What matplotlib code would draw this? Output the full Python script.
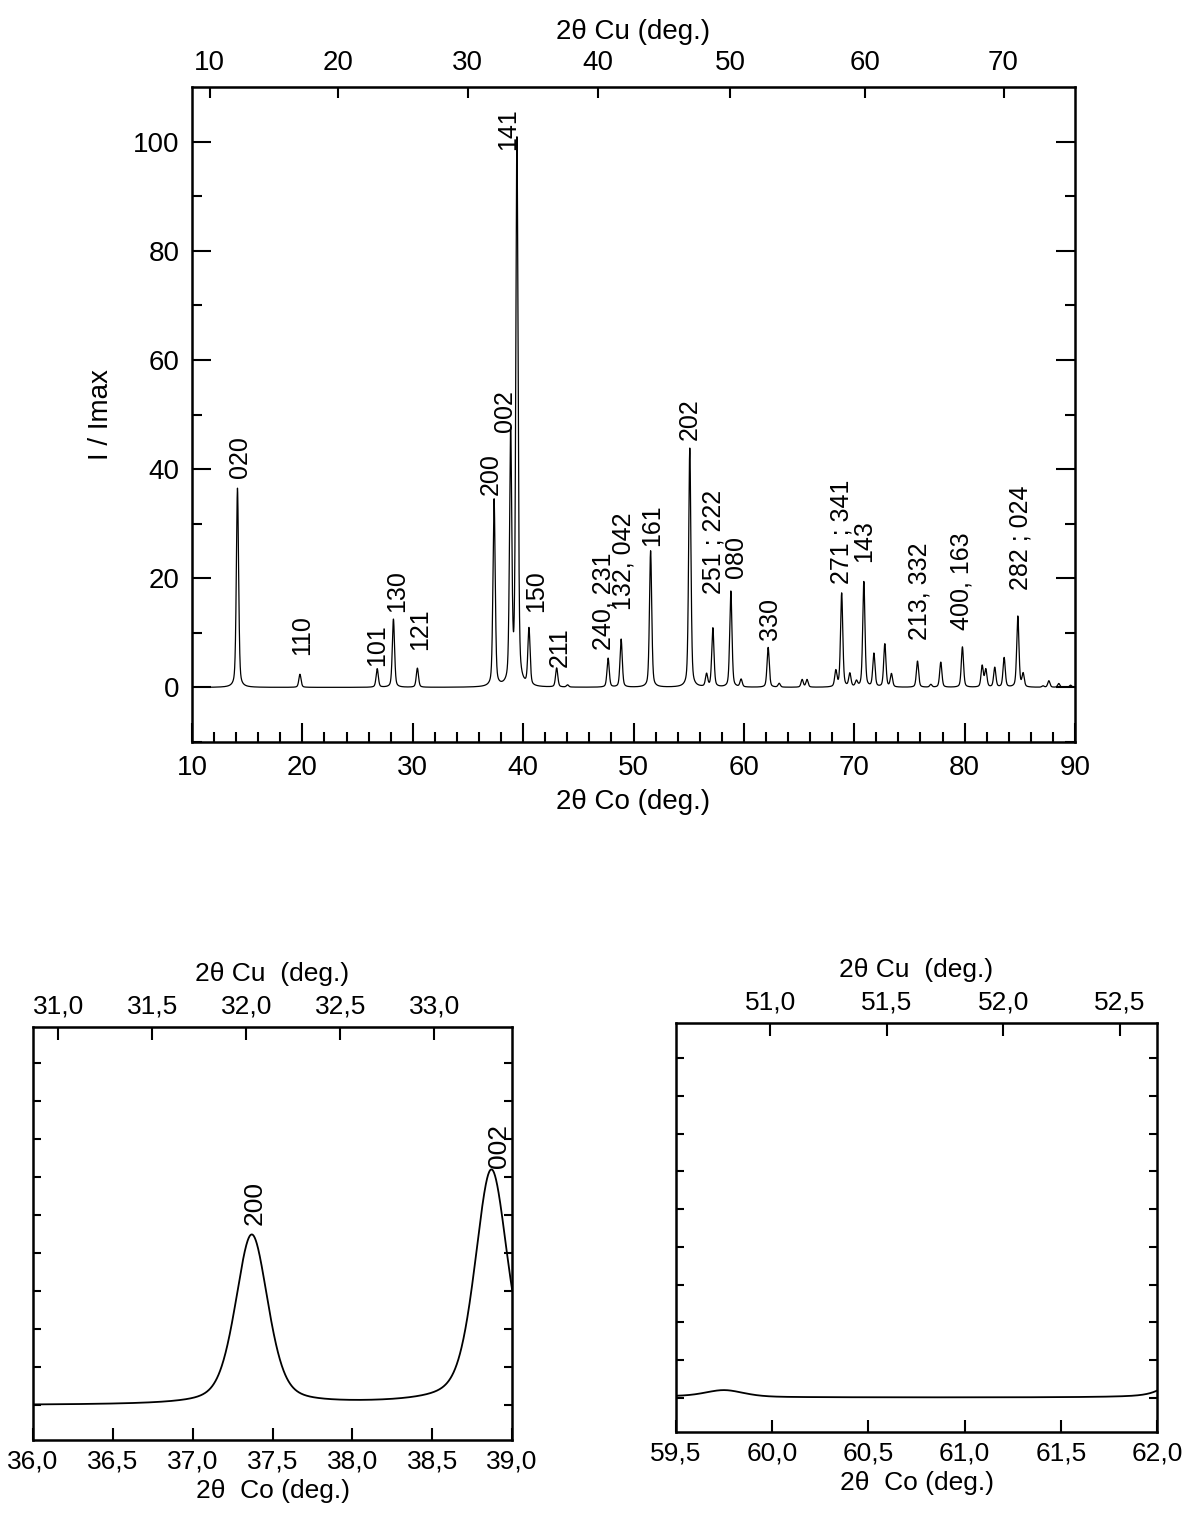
import numpy as np
import matplotlib
matplotlib.use("Agg")
import matplotlib.pyplot as plt
from matplotlib.ticker import MultipleLocator, FixedLocator, FuncFormatter

plt.rcParams['font.family'] = ['Liberation Sans', 'DejaVu Sans']

# ---------------- data ----------------
peak_pos = [14.12, 19.78, 26.78, 28.25, 30.42, 37.37, 38.87, 39.44, 40.53, 43.04,
            44.03, 47.70, 48.88, 51.55, 55.10, 56.62, 57.19, 58.82, 59.75, 62.20,
            63.20, 65.28, 65.72, 68.33, 68.86, 69.60, 70.20, 70.87, 71.78, 72.77,
            73.37, 75.73, 76.94, 77.84, 79.80, 81.59, 81.92, 82.73, 83.58, 84.82,
            85.30, 87.10, 87.63, 88.53, 89.60]
peak_int = [36.5, 2.4, 3.4, 12.5, 3.5, 34.3, 45.9, 100.0, 10.4, 3.5,
            0.4, 5.3, 8.8, 25.0, 43.8, 2.3, 10.8, 17.6, 1.4, 7.3,
            0.7, 1.4, 1.4, 2.9, 17.2, 2.4, 1.0, 19.3, 6.1, 7.9,
            2.4, 4.8, 0.5, 4.6, 7.4, 3.9, 3.2, 3.6, 5.4, 13.0,
            2.4, 0.25, 1.2, 0.7, 0.4]
peak_fwhm = 0.24
lorentz_frac = 0.4

hkl_labels = ["020", "110", "101", "130", "121", "200", "002", "141", "150", "211",
              "240, 231", "132, 042", "161", "202", "251 ; 222", "080", "330",
              "271 ; 341", "143", "213, 332", "400, 163", "282 ; 024"]
hkl_x = [14.35, 19.96, 26.76, 28.57, 30.65, 37.08, 38.35, 38.62, 41.16, 43.33,
         47.32, 49.13, 51.67, 55.10, 57.28, 59.28, 62.36,
         68.80, 70.90, 75.94, 79.75, 85.09]
hkl_y = [38.3, 5.9, 4.0, 13.8, 6.8, 35.2, 46.8, 98.5, 13.8, 3.7,
         6.8, 14.1, 26.0, 45.3, 17.2, 20.0, 8.6,
         19.0, 23.0, 8.6, 10.5, 17.8]

inset1_labels = ["200", "002"]
inset1_lx = [37.39, 38.92]
inset1_ly = [36.5, 48.0]

main_xticks_cu = [10, 20, 30, 40, 50, 60, 70]
inset1_cu_ticks = [31.0, 31.5, 32.0, 32.5, 33.0]
inset2_cu_ticks = [51.0, 51.5, 52.0, 52.5]

LAMBDA_CU = 1.5406
LAMBDA_CO = 1.7890


def co2cu(x):
    x = np.asarray(x, dtype=float)
    s = np.sin(np.radians(x / 2.0)) * LAMBDA_CU / LAMBDA_CO
    return 2.0 * np.degrees(np.arcsin(np.clip(s, -1, 1)))


def cu2co(x):
    x = np.asarray(x, dtype=float)
    s = np.sin(np.radians(x / 2.0)) * LAMBDA_CO / LAMBDA_CU
    return 2.0 * np.degrees(np.arcsin(np.clip(s, -1, 1)))


def pattern(x):
    y = np.zeros_like(x)
    hw = peak_fwhm / 2.0
    for p, h in zip(peak_pos, peak_int):
        u = ((x - p) / hw) ** 2
        y += h * (lorentz_frac / (1 + u) + (1 - lorentz_frac) * np.exp(-np.log(2) * u))
    return y


comma = FuncFormatter(lambda v, pos: f"{v:.1f}".replace('.', ','))

fig = plt.figure(figsize=(11.91, 15.15), dpi=100)

# ---------------- main panel ----------------
ax = fig.add_axes([192 / 1191, 1 - 742 / 1515, 883 / 1191, 655 / 1515])
x = np.arange(10, 90.001, 0.005)
ax.plot(x, pattern(x), color='black', lw=0.9)
ax.set_xlim(10, 90)
ax.set_ylim(-10, 110)
ax.xaxis.set_major_locator(MultipleLocator(10))
ax.xaxis.set_minor_locator(MultipleLocator(2))
ax.yaxis.set_major_locator(FixedLocator([0, 20, 40, 60, 80, 100]))
ax.yaxis.set_minor_locator(FixedLocator([-10, 10, 30, 50, 70, 90]))
ax.tick_params(which='both', direction='in', top=False, right=True, labelsize=20, width=1.5)
ax.tick_params(which='major', length=14, pad=9)
ax.tick_params(which='minor', length=7)
for s in ax.spines.values():
    s.set_linewidth(1.8)
ax.set_xlabel("2θ Co (deg.)", fontsize=20, labelpad=6)
ax.set_ylabel("I / Imax", fontsize=20, labelpad=14)

sec = ax.secondary_xaxis('top', functions=(co2cu, cu2co))
sec.set_xticks(main_xticks_cu)
sec.tick_params(direction='in', length=8, width=1.5, labelsize=20, pad=8)
sec.set_xlabel("2θ Cu (deg.)", fontsize=20, labelpad=8)

for t, lx, ly in zip(hkl_labels, hkl_x, hkl_y):
    ax.text(lx, ly, t, rotation=90, ha='center', va='bottom', fontsize=18)

# ---------------- insets ----------------
def inset(rect, xlim, xstep, cu_ticks):
    a = fig.add_axes(rect)
    xx = np.arange(xlim[0] - 0.05, xlim[1] + 0.05, 0.002)
    a.plot(xx, pattern(xx), color='black', lw=1.3)
    a.set_xlim(*xlim)
    a.set_ylim(-7, 76.5)
    a.xaxis.set_major_locator(MultipleLocator(xstep))
    a.xaxis.set_major_formatter(comma)
    a.yaxis.set_major_locator(MultipleLocator(7.7))
    a.set_yticklabels([])
    a.tick_params(which='both', direction='in', top=False, right=True, width=1.5,
                  labelsize=19, length=9, pad=7)
    a.tick_params(axis='y', length=6)
    for s in a.spines.values():
        s.set_linewidth(1.8)
    a.set_xlabel("2θ  Co (deg.)", fontsize=19, labelpad=4)
    sx = a.secondary_xaxis('top', functions=(co2cu, cu2co))
    sx.set_xticks(cu_ticks)
    sx.xaxis.set_major_formatter(comma)
    sx.tick_params(direction='in', length=9, width=1.5, labelsize=19, pad=6)
    sx.set_xlabel("2θ Cu  (deg.)", fontsize=19, labelpad=10)
    return a


a1 = inset([33 / 1191, 1 - 1440 / 1515, 479 / 1191, 413 / 1515], (36.0, 39.0), 0.5, inset1_cu_ticks)
for t, lx, ly in zip(inset1_labels, inset1_lx, inset1_ly):
    a1.text(lx, ly, t, rotation=90, ha='center', va='bottom', fontsize=19)

a2 = inset([676 / 1191, 1 - 1432 / 1515, 481 / 1191, 409 / 1515], (59.5, 62.0), 0.5, inset2_cu_ticks)

fig.savefig("out.png", dpi=100)
